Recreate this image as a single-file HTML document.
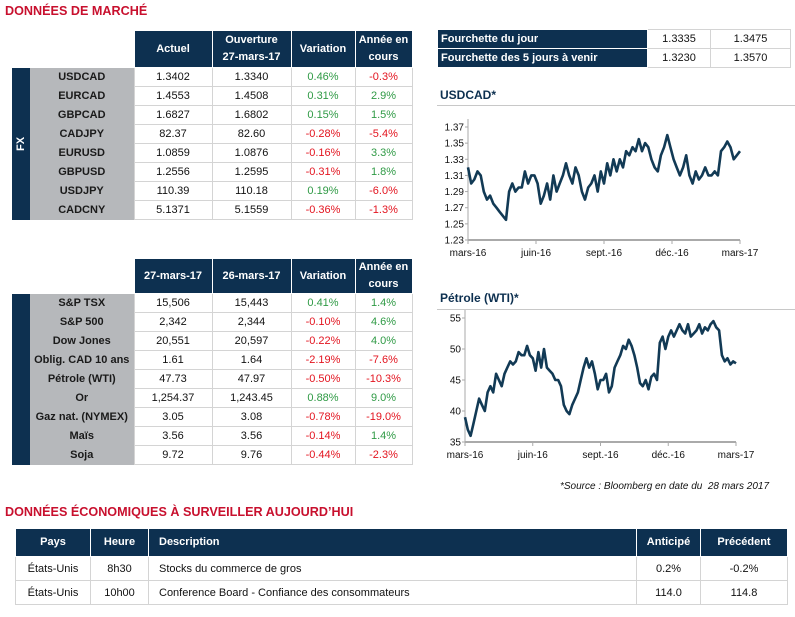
<!DOCTYPE html>
<html><head><meta charset="utf-8">
<style>
body{margin:0;width:795px;height:617px;background:#fff;font-family:"Liberation Sans",sans-serif;position:relative;overflow:hidden}
.abs{position:absolute}
.title{color:#c8102e;font-weight:bold;font-size:13px;letter-spacing:0;transform:scaleX(0.97);transform-origin:left top;white-space:nowrap}
table{border-collapse:collapse;table-layout:fixed;font-size:11px;position:absolute}
td,th{padding:0;text-align:center;overflow:hidden;white-space:nowrap}
th{background:#0d3050;color:#fff;font-weight:bold;border:1px solid #fff;line-height:17px;white-space:normal}
td.v{border:1px solid #d4d4d4;color:#111}
td.lab{background:#b6b8bb;font-weight:bold;color:#1a1a1a;border:none}
td.side{background:#0d3050;color:#fff;font-weight:bold;border:none}
td.v.g{color:#2f9a45}td.v.r{color:#e3141f}
.vt{display:inline-block;transform:rotate(-90deg);white-space:nowrap}
.ctitle{font-weight:bold;color:#0d3050;font-size:12px}
.hl{height:1px;background:#c8c8c8}
svg text{font-family:"Liberation Sans",sans-serif;font-size:10px;fill:#111}
</style></head><body>
<div class="abs title" style="left:5px;top:3px">DONNÉES DE MARCHÉ</div>

<table style="left:12px;top:30px;width:400px">
<colgroup><col style="width:18px"><col style="width:104px"><col style="width:78px"><col style="width:79px"><col style="width:64px"><col style="width:57px"></colgroup>
<tr style="height:37px"><td style="border:none"></td><td style="border:none"></td><th>Actuel</th><th>Ouverture<br>27-mars-17</th><th>Variation</th><th>Année en cours</th></tr>
<tr style="height:19px"><td class="side" rowspan="8"><span class="vt">FX</span></td><td class="lab">USDCAD</td><td class="v">1.3402</td><td class="v">1.3340</td><td class="v g">0.46%</td><td class="v r">-0.3%</td></tr>
<tr style="height:19px"><td class="lab">EURCAD</td><td class="v">1.4553</td><td class="v">1.4508</td><td class="v g">0.31%</td><td class="v g">2.9%</td></tr>
<tr style="height:19px"><td class="lab">GBPCAD</td><td class="v">1.6827</td><td class="v">1.6802</td><td class="v g">0.15%</td><td class="v g">1.5%</td></tr>
<tr style="height:19px"><td class="lab">CADJPY</td><td class="v">82.37</td><td class="v">82.60</td><td class="v r">-0.28%</td><td class="v r">-5.4%</td></tr>
<tr style="height:19px"><td class="lab">EURUSD</td><td class="v">1.0859</td><td class="v">1.0876</td><td class="v r">-0.16%</td><td class="v g">3.3%</td></tr>
<tr style="height:19px"><td class="lab">GBPUSD</td><td class="v">1.2556</td><td class="v">1.2595</td><td class="v r">-0.31%</td><td class="v g">1.8%</td></tr>
<tr style="height:19px"><td class="lab">USDJPY</td><td class="v">110.39</td><td class="v">110.18</td><td class="v g">0.19%</td><td class="v r">-6.0%</td></tr>
<tr style="height:19px"><td class="lab">CADCNY</td><td class="v">5.1371</td><td class="v">5.1559</td><td class="v r">-0.36%</td><td class="v r">-1.3%</td></tr>
</table>

<table style="left:12px;top:258px;width:400px">
<colgroup><col style="width:18px"><col style="width:104px"><col style="width:78px"><col style="width:79px"><col style="width:64px"><col style="width:57px"></colgroup>
<tr style="height:33px"><td style="border:none"></td><td style="border:none"></td><th>27-mars-17</th><th>26-mars-17</th><th>Variation</th><th>Année en cours</th></tr>
<tr style="height:19px"><td class="side" rowspan="9"><span class="vt">Autres marchés</span></td><td class="lab">S&amp;P TSX</td><td class="v">15,506</td><td class="v">15,443</td><td class="v g">0.41%</td><td class="v g">1.4%</td></tr>
<tr style="height:19px"><td class="lab">S&amp;P 500</td><td class="v">2,342</td><td class="v">2,344</td><td class="v r">-0.10%</td><td class="v g">4.6%</td></tr>
<tr style="height:19px"><td class="lab">Dow Jones</td><td class="v">20,551</td><td class="v">20,597</td><td class="v r">-0.22%</td><td class="v g">4.0%</td></tr>
<tr style="height:19px"><td class="lab">Oblig. CAD 10 ans</td><td class="v">1.61</td><td class="v">1.64</td><td class="v r">-2.19%</td><td class="v r">-7.6%</td></tr>
<tr style="height:19px"><td class="lab">Pétrole (WTI)</td><td class="v">47.73</td><td class="v">47.97</td><td class="v r">-0.50%</td><td class="v r">-10.3%</td></tr>
<tr style="height:19px"><td class="lab">Or</td><td class="v">1,254.37</td><td class="v">1,243.45</td><td class="v g">0.88%</td><td class="v g">9.0%</td></tr>
<tr style="height:19px"><td class="lab">Gaz nat. (NYMEX)</td><td class="v">3.05</td><td class="v">3.08</td><td class="v r">-0.78%</td><td class="v r">-19.0%</td></tr>
<tr style="height:19px"><td class="lab">Maïs</td><td class="v">3.56</td><td class="v">3.56</td><td class="v r">-0.14%</td><td class="v g">1.4%</td></tr>
<tr style="height:19px"><td class="lab">Soja</td><td class="v">9.72</td><td class="v">9.76</td><td class="v r">-0.44%</td><td class="v r">-2.3%</td></tr>
</table>

<table style="left:437px;top:29px;width:353px">
<colgroup><col style="width:210px"><col style="width:63px"><col style="width:80px"></colgroup>
<tr style="height:19px"><th style="text-align:left;padding-left:3px">Fourchette du jour</th><td class="v">1.3335</td><td class="v">1.3475</td></tr>
<tr style="height:19px"><th style="text-align:left;padding-left:3px">Fourchette des 5 jours à venir</th><td class="v">1.3230</td><td class="v">1.3570</td></tr>
</table>

<div class="abs ctitle" style="left:440px;top:88px">USDCAD*</div>
<div class="abs hl" style="left:437px;top:105px;width:358px"></div>
<svg class="abs" id="c1" style="left:425px;top:110px" width="370" height="150"></svg>

<div class="abs ctitle" style="left:440px;top:291px">Pétrole (WTI)*</div>
<div class="abs hl" style="left:437px;top:309px;width:358px"></div>
<svg class="abs" id="c2" style="left:425px;top:310px" width="370" height="155"></svg>

<div class="abs" style="left:560px;top:481px;font-size:10px;font-style:italic;color:#111">*Source : Bloomberg en date du &nbsp;28 mars 2017</div>

<div class="abs title" style="left:5px;top:504px">DONNÉES ÉCONOMIQUES À SURVEILLER AUJOURD’HUI</div>
<table style="left:15px;top:528px;width:772px;font-size:11px">
<colgroup><col style="width:75px"><col style="width:58px"><col style="width:488px"><col style="width:64px"><col style="width:87px"></colgroup>
<tr style="height:28px"><th>Pays</th><th>Heure</th><th style="text-align:left;padding-left:10px">Description</th><th>Anticipé</th><th>Précédent</th></tr>
<tr style="height:24px"><td class="v">États-Unis</td><td class="v">8h30</td><td class="v" style="text-align:left;padding-left:10px">Stocks du commerce de gros</td><td class="v">0.2%</td><td class="v">-0.2%</td></tr>
<tr style="height:24px"><td class="v">États-Unis</td><td class="v">10h00</td><td class="v" style="text-align:left;padding-left:10px">Conference Board - Confiance des consommateurs</td><td class="v">114.0</td><td class="v">114.8</td></tr>
</table>

<script>
const xLabels = ["mars-16","juin-16","sept.-16","déc.-16","mars-17"];
const usdTicks = [1.23,1.25,1.27,1.29,1.31,1.33,1.35,1.37];
const usdValues = [1.32,1.30,1.305,1.315,1.31,1.29,1.28,1.285,1.275,1.27,1.265,1.26,1.255,1.29,1.30,1.29,1.295,1.295,1.315,1.30,1.31,1.31,1.30,1.275,1.285,1.30,1.28,1.31,1.29,1.30,1.31,1.325,1.31,1.30,1.32,1.31,1.29,1.28,1.295,1.30,1.31,1.29,1.315,1.30,1.325,1.31,1.33,1.315,1.33,1.32,1.34,1.335,1.345,1.34,1.355,1.34,1.35,1.345,1.33,1.32,1.315,1.335,1.345,1.36,1.345,1.33,1.32,1.31,1.32,1.335,1.31,1.30,1.315,1.305,1.31,1.32,1.31,1.31,1.315,1.31,1.34,1.345,1.352,1.345,1.33,1.335,1.34];
const oilTicks = [35,40,45,50,55];
const oilValues = [39,37,36,38,40,42,41,40,43,44,43,46,45,44,46,47,48,47.5,48,49.5,49,49,50.5,49,48.5,46.5,49.5,47,50,47,46.5,46,45,45,44,41,40,39.5,41,42,43,45,47,48.5,47,48,46,43.5,45,45,46,43,44,47,48,49,50.5,50,51.5,50.5,49,47,44.5,44,45,43.5,45.5,46,45,51,52,50,52,53,52,53,54,53,52.5,54,52,52.5,53,54,52.5,53.5,53,54,54.5,53.5,53,49,48,48.5,47.5,48,47.7];
const NS="http://www.w3.org/2000/svg";
function mk(svg,tag,attrs){const e=document.createElementNS(NS,tag);for(const k in attrs)e.setAttribute(k,attrs[k]);svg.appendChild(e);return e;}
function chart(id,vals,ticks,x0,x1,yTop,yBot,fmt,name){
  const svg=document.getElementById(id);
  const lo=ticks[0],hi=ticks[ticks.length-1];
  const y=v=>yBot-(v-lo)/(hi-lo)*(yBot-yTop);
  const x=i=>x0+i/(vals.length-1)*(x1-x0);
  const ax=mk(svg,'line',{x1:x0,y1:yTop-8,x2:x0,y2:yBot,stroke:'#aaa','stroke-width':1});
  
  
  const bx=mk(svg,'line',{x1:x0,y1:yBot,x2:x1,y2:yBot,stroke:'#aaa','stroke-width':2});
  
  
  ticks.forEach(t=>{
    mk(svg,'line',{x1:x0-3,y1:y(t),x2:x0,y2:y(t),stroke:'#aaa'});
    const tx=mk(svg,'text',{x:x0-4,y:y(t)+3.5,'text-anchor':'end'});
    tx.textContent=fmt(t);
    
    
  });
  xLabels.forEach((l,i)=>{
    const xx=x0+i/(xLabels.length-1)*(x1-x0);
    mk(svg,'line',{x1:xx,y1:yBot,x2:xx,y2:yBot+4,stroke:'#aaa'});
    const tx=mk(svg,'text',{x:xx,y:yBot+16,'text-anchor':'middle'});
    tx.textContent=l;
    
    
  });
  const p=mk(svg,'polyline',{points:vals.map((v,i)=>x(i).toFixed(1)+','+y(v).toFixed(1)).join(' '),fill:'none',stroke:'#123a55','stroke-width':2.6,'stroke-linejoin':'round'});
  
  
}
chart('c1',usdValues,usdTicks,43,315,17,130,v=>v.toFixed(2),'usdcad');
chart('c2',oilValues,oilTicks,40,311,8,132,v=>String(v),'oil');
</script>
</body></html>
